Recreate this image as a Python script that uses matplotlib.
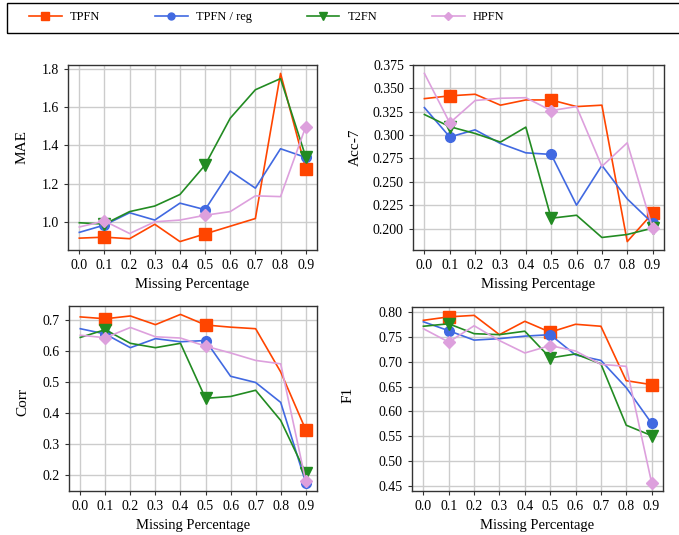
import numpy as np
import matplotlib.pyplot as plt
from matplotlib.lines import Line2D
from matplotlib.patches import Rectangle

plt.rcParams['font.family'] = ['Liberation Serif', 'DejaVu Serif']

# missing ratio
miss = [0.0, 0.1, 0.2, 0.3, 0.4, 0.5, 0.6, 0.7, 0.8, 0.9]
models = ['TPFN', 'TPFN / reg', 'T2FN', 'HPFN']

mae_tpfn = [0.918, 0.923, 0.915, 0.990, 0.900, 0.940, 0.980, 1.020, 1.775, 1.280]
mae_reg = [0.948, 0.986, 1.050, 1.012, 1.100, 1.066, 1.267, 1.178, 1.383, 1.338]
mae_t2fn = [0.998, 0.991, 1.056, 1.085, 1.145, 1.298, 1.542, 1.690, 1.748, 1.342]
mae_hpfn = [0.976, 1.007, 0.942, 1.003, 1.012, 1.037, 1.056, 1.138, 1.134, 1.497]

acc_tpfn = [0.339, 0.342, 0.3437, 0.332, 0.3376, 0.3376, 0.3305, 0.332, 0.186, 0.2164]
acc_reg = [0.3294, 0.298, 0.3056, 0.291, 0.281, 0.2793, 0.225, 0.2676, 0.2317, 0.2057]
acc_t2fn = [0.322, 0.309, 0.3017, 0.2925, 0.3085, 0.211, 0.2142, 0.1904, 0.1936, 0.2004]
acc_hpfn = [0.366, 0.313, 0.337, 0.3394, 0.340, 0.3262, 0.3305, 0.2665, 0.2917, 0.2004]

corr_tpfn = [0.710, 0.704, 0.713, 0.685, 0.718, 0.684, 0.677, 0.672, 0.533, 0.347]
corr_reg = [0.672, 0.655, 0.611, 0.640, 0.630, 0.634, 0.519, 0.499, 0.435, 0.177]
corr_t2fn = [0.644, 0.669, 0.625, 0.611, 0.625, 0.448, 0.454, 0.474, 0.377, 0.2075]
corr_hpfn = [0.651, 0.643, 0.676, 0.646, 0.642, 0.616, 0.594, 0.570, 0.559, 0.182]

f1_tpfn = [0.784, 0.791, 0.794, 0.755, 0.782, 0.760, 0.776, 0.772, 0.662, 0.654]
f1_reg = [0.781, 0.763, 0.744, 0.747, 0.752, 0.755, 0.714, 0.703, 0.648, 0.576]
f1_t2fn = [0.772, 0.777, 0.757, 0.755, 0.762, 0.708, 0.716, 0.696, 0.572, 0.551]
f1_hpfn = [0.767, 0.740, 0.773, 0.743, 0.718, 0.733, 0.722, 0.695, 0.691, 0.456]

colors = ['#ff4500', '#4169e1', '#228b22', '#dda0dd']
markers = ['s', 'o', 'v', 'D']
msizes = [8, 7, 8, 6.5]

# name, series, axes box (px), yticks, tick format, ylabel position (axes coords)
panels = [
    ('MAE', [mae_tpfn, mae_reg, mae_t2fn, mae_hpfn], [68, 65, 317, 250],
     [1.0, 1.2, 1.4, 1.6, 1.8], '%.1f', (-0.157, 0.557)),
    ('Acc-7', [acc_tpfn, acc_reg, acc_t2fn, acc_hpfn], [413, 65, 664, 250],
     [0.200, 0.225, 0.250, 0.275, 0.300, 0.325, 0.350, 0.375], '%.3f', (-0.203, 0.557)),
    ('Corr', [corr_tpfn, corr_reg, corr_t2fn, corr_hpfn], [69, 306, 317, 491],
     [0.2, 0.3, 0.4, 0.5, 0.6, 0.7], '%.1f', (-0.161, 0.481)),
    ('F1', [f1_tpfn, f1_reg, f1_t2fn, f1_hpfn], [412, 307, 663, 491],
     [0.45, 0.50, 0.55, 0.60, 0.65, 0.70, 0.75, 0.80], '%.2f', (-0.227, 0.522)),
]

W, H = 679, 535
fig = plt.figure(figsize=(W / 100, H / 100), dpi=100)

for name, series, box, yt, fmt, lab in panels:
    x0, y0, x1, y1 = box
    ax = fig.add_axes([x0 / W, 1 - y1 / H, (x1 - x0) / W, (y1 - y0) / H])
    for i in range(4):
        ax.plot(miss, series[i], color=colors[i], marker=markers[i], ms=msizes[i],
                markevery=[1, 5, 9], lw=1.2, zorder=3)
    ax.set_xticks(miss)
    ax.set_xticklabels(['%.1f' % v for v in miss])
    ax.set_yticks(yt)
    ax.set_yticklabels([fmt % v for v in yt])
    ax.grid(True, color='#cccccc', lw=1)
    ax.tick_params(labelsize=10, length=3, color='#333333')
    for s in ax.spines.values():
        s.set_color('#333333')
        s.set_linewidth(1)
    ax.set_xlabel('Missing Percentage', fontsize=10.5)
    ax.set_ylabel(name, fontsize=11)
    ax.yaxis.set_label_coords(*lab)

# legend frame runs off the right edge like in the original
fig.patches.append(Rectangle((7 / W, 1 - 33 / H), 700 / W, 30 / H, transform=fig.transFigure,
                             fill=False, edgecolor='black', lw=1))
handles = [Line2D([0], [0], color=colors[i], marker=markers[i], ms=msizes[i] - 2, lw=1.2)
           for i in range(4)]
leg = fig.legend(handles, models, loc='center left', ncol=4,
                 bbox_to_anchor=(29 / W, 1 - 17 / H), frameon=False, fontsize=9,
                 handlelength=2.6, handletextpad=0.65, columnspacing=4.4,
                 borderpad=0, borderaxespad=0)

fig.savefig('out.png', dpi=100)
